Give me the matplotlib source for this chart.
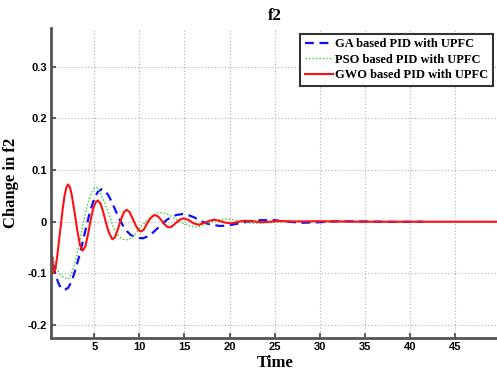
import matplotlib
matplotlib.use("Agg")
import matplotlib.pyplot as plt

# Data
t_gwo = [0.2, 0.35, 0.5, 0.7, 0.9, 1.1, 1.3, 1.5, 1.7, 1.9, 2.1, 2.3, 2.5, 2.8, 3.1, 3.4, 3.7, 4.0,
         4.3, 4.6, 4.9, 5.2, 5.4, 5.7, 6.0, 6.3, 6.6, 7.0, 7.3, 7.6, 8.0, 8.3, 8.6, 8.9, 9.2, 9.6,
         9.9, 10.2, 10.5, 10.8, 11.2, 11.5, 11.7, 12.0, 12.3, 12.8, 13.1, 13.4, 13.7, 14.0, 14.5,
         14.9, 15.5, 16.0, 16.6, 17.2, 17.8, 18.3, 19.0, 19.6, 20.2, 21.0, 21.7, 22.5, 23.5, 24.5,
         25.5, 27.0, 30.0, 35.0, 40.0, 45.0, 49.8]
y_gwo = [-0.085, -0.07, -0.10, -0.09, -0.065, -0.035, -0.005, 0.025, 0.05, 0.066, 0.072, 0.067,
         0.052, 0.02, -0.015, -0.044, -0.056, -0.048, -0.025, 0.004, 0.027, 0.039, 0.041, 0.035,
         0.018, -0.002, -0.02, -0.034, -0.03, -0.015, 0.006, 0.019, 0.023, 0.019, 0.008, -0.007,
         -0.016, -0.019, -0.015, -0.005, 0.006, 0.011, 0.013, 0.011, 0.006, -0.005, -0.010, -0.011,
         -0.008, -0.003, 0.004, 0.0065, 0.003, -0.003, -0.006, -0.002, 0.002, 0.004, 0.001, -0.002,
         -0.003, 0.0, 0.002, 0.001, -0.001, 0.0, 0.0015, 0.0005, 0.001, 0.0, 0.0, 0.0, 0.0]

t_ga = [0.2, 0.6, 1.0, 1.3, 1.7, 2.1, 2.5, 3.0, 3.5, 4.0, 4.5, 5.0, 5.4, 5.8, 6.2, 6.6, 7.0, 7.4,
        7.8, 8.2, 8.6, 9.0, 9.6, 10.4, 11.0, 11.5, 12.0, 12.5, 13.0, 13.5, 14.1, 14.8, 15.4, 16.0,
        16.5, 17.0, 17.6, 18.2, 18.8, 19.5, 20.2, 20.8, 21.4, 22.0, 22.7, 23.5, 24.3, 25.0, 25.8,
        26.5, 27.2, 28.0, 30.0, 32.0, 35.0, 38.0, 41.5]
y_ga = [-0.056, -0.095, -0.118, -0.128, -0.132, -0.128, -0.115, -0.088, -0.055, -0.018, 0.018,
        0.045, 0.058, 0.063, 0.06, 0.05, 0.036, 0.02, 0.005, -0.008, -0.018, -0.025, -0.031,
        -0.032, -0.028, -0.021, -0.013, -0.005, 0.003, 0.009, 0.013, 0.015, 0.013, 0.009, 0.005,
        0.0, -0.004, -0.006, -0.008, -0.008, -0.006, -0.004, -0.002, 0.0, 0.002, 0.003, 0.003,
        0.003, 0.001, 0.0, -0.001, -0.002, -0.001, 0.001, 0.0005, -0.0003, 0.0]

t_pso = [0.4, 0.8, 1.2, 1.6, 2.1, 2.6, 3.0, 3.4, 3.8, 4.2, 4.6, 5.0, 5.3, 5.6, 6.0, 6.3, 6.7, 7.0,
         7.4, 7.8, 8.2, 8.7, 9.1, 9.5, 10.0, 10.4, 10.9, 11.3, 11.9, 12.6, 13.1, 13.6, 14.0, 14.5,
         15.0, 15.4, 15.9, 16.3, 16.8, 17.2, 17.7, 18.2, 18.9, 19.6, 20.3, 21.0, 21.5, 22.0, 22.7,
         23.5, 24.2, 25.0, 26.0, 27.0, 30.0, 35.0]
y_pso = [-0.07, -0.09, -0.102, -0.108, -0.111, -0.095, -0.07, -0.038, 0.0, 0.03, 0.052, 0.065,
         0.066, 0.058, 0.042, 0.03, 0.012, -0.005, -0.02, -0.03, -0.034, -0.035, -0.031, -0.025,
         -0.014, -0.005, 0.004, 0.01, 0.016, 0.018, 0.015, 0.01, 0.005, 0.0, -0.004, -0.007,
         -0.009, -0.010, -0.009, -0.006, -0.003, 0.001, 0.004, 0.005, 0.004, 0.002, 0.0, -0.002,
         -0.003, -0.003, -0.002, -0.001, 0.0, 0.001, 0.0, 0.0]

labels = ["GA based PID with UPFC", "PSO based PID with UPFC", "GWO based PID with UPFC"]
xticks = [5, 10, 15, 20, 25, 30, 35, 40, 45]
yticks = [-0.2, -0.1, 0.0, 0.1, 0.2, 0.3]
ytick_labels = ["-0.2", "-0.1", "0", "0.1", "0.2", "0.3"]

fig = plt.figure(figsize=(4.97, 3.75), dpi=100)
ax = fig.add_axes([0.1026, 0.0987, 0.9, 0.8267])

ax.plot(t_ga, y_ga, color="#1010ff", linestyle=(0, (4, 2.5)), linewidth=1.6, label=labels[0])
ax.plot(t_pso, y_pso, color="#33cc33", linestyle=(0, (1, 1.5)), linewidth=1.0, label=labels[1])
ax.plot(t_gwo, y_gwo, color="#ff1010", linestyle="-", linewidth=1.5, label=labels[2])

ax.set_xlim(0.2, 49.8)
ax.set_ylim(-0.225, 0.375)
ax.set_xticks(xticks)
ax.set_yticks(yticks)
ax.set_yticklabels(ytick_labels)

for lab in ax.get_xticklabels() + ax.get_yticklabels():
    lab.set_fontfamily("Liberation Sans")
    lab.set_fontweight("bold")
    lab.set_fontsize(8)

ax.tick_params(direction="in", length=3.5, width=1.2, color="#444444", pad=3)
ax.grid(True, linestyle=(0, (1, 2)), color="#b0b0b0", linewidth=0.8)

for s in ["top", "right"]:
    ax.spines[s].set_visible(False)
for s in ["left", "bottom"]:
    ax.spines[s].set_color("#555555")
    ax.spines[s].set_linewidth(2.0)

serif = {"family": "Liberation Serif", "weight": "bold"}
ax.set_title("f2", fontsize=12, pad=6, **serif)
ax.set_xlabel("Time", fontsize=12, labelpad=2, **serif)
ax.set_ylabel("Change in f2", fontsize=12, labelpad=6, **serif)

leg = ax.legend(loc="upper right", bbox_to_anchor=(0.993, 0.99), frameon=True, fancybox=False,
                edgecolor="#333333", framealpha=1.0, handlelength=2.3, handletextpad=0.15,
                borderpad=0.35, labelspacing=0.3, borderaxespad=0.2,
                prop={"family": "Liberation Serif", "weight": "bold", "size": 9})
leg.get_frame().set_linewidth(1.5)

fig.savefig("out.png", dpi=100)
